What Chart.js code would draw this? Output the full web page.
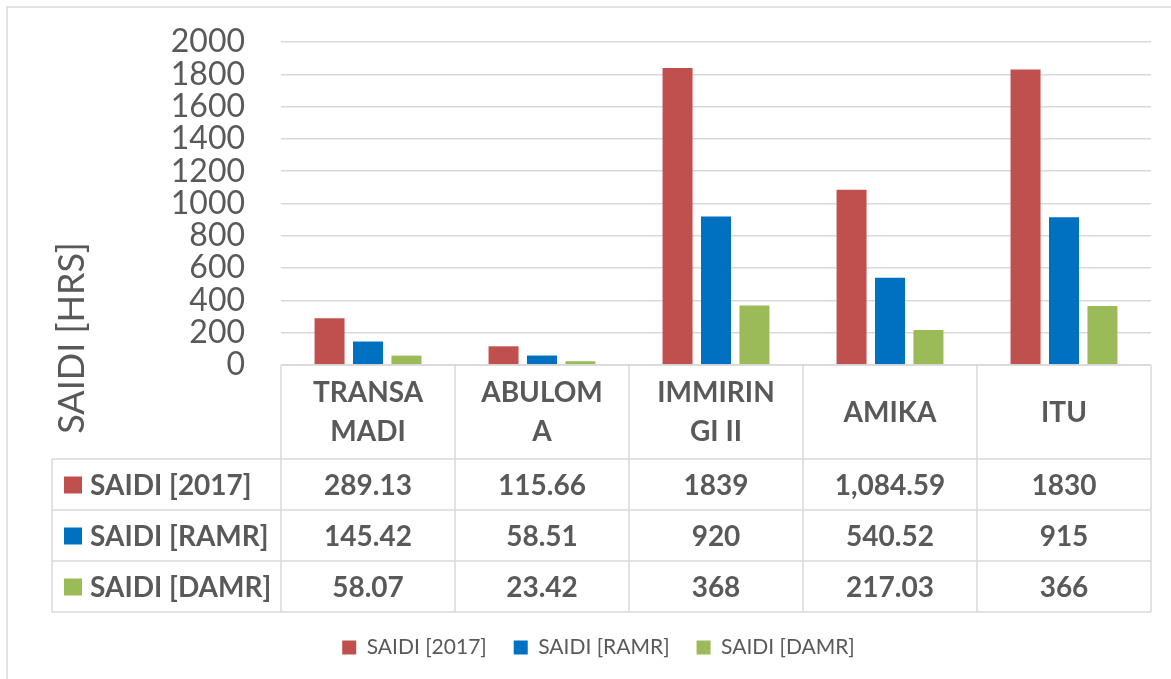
<!DOCTYPE html>
<html>
<head>
<meta charset="utf-8">
<script src="https://cdn.jsdelivr.net/npm/chart.js@4.4.1/dist/chart.umd.min.js"></script>
<style>
  html, body { margin: 0; padding: 0; background: #fff; }
  #wrap { width: 1171px; height: 679px; }
</style>
</head>
<body>
<div id="wrap"><canvas id="myChart" width="1171" height="679"></canvas></div>
<script>
// data
const categories = [['TRANSA', 'MADI'], ['ABULOM', 'A'], ['IMMIRIN', 'GI II'], 'AMIKA', 'ITU'];
const seriesNames = ['SAIDI [2017]', 'SAIDI [RAMR]', 'SAIDI [DAMR]'];
const saidi2017 = [289.13, 115.66, 1839, 1084.59, 1830];
const saidiRamr = [145.42, 58.51, 920, 540.52, 915];
const saidiDamr = [58.07, 23.42, 368, 217.03, 366];
const yTicks = [0, 200, 400, 600, 800, 1000, 1200, 1400, 1600, 1800, 2000];
const yTitle = 'SAIDI [HRS]';

const colors = ['#C0504D', '#0070C0', '#9BBB59'];
const gridColor = '#D9D9D9';
const textColor = '#595959';

Chart.defaults.font.family = 'Lato';
Chart.defaults.color = textColor;

function fmt(v) {
    if (Number.isInteger(v)) return String(v);
    return v.toLocaleString('en-US', { minimumFractionDigits: 2, maximumFractionDigits: 2 });
}

// data table under the plot + outer frame + y title
const tablePlugin = {
    id: 'dataTable',
    afterDraw(chart) {
        const ctx = chart.ctx;
        const x = chart.scales.x;
        const area = chart.chartArea;
        const top = area.bottom;
        const headH = 94, rowH = 51;
        const tableLeft = 52;
        const n = categories.length;
        const colW = (area.right - area.left) / n;
        const rows = [saidi2017, saidiRamr, saidiDamr];
        const bottom = top + headH + rowH * rows.length;

        ctx.save();
        // outer frame (top + left)
        ctx.strokeStyle = gridColor;
        ctx.lineWidth = 1.5;
        ctx.beginPath();
        ctx.moveTo(7, chart.height);
        ctx.lineTo(7, 7);
        ctx.lineTo(chart.width, 7);
        ctx.stroke();

        // table lines
        ctx.beginPath();
        ctx.moveTo(area.left, top);
        ctx.lineTo(area.right, top);
        for (let r = 0; r <= rows.length; r++) {
            const y = top + headH + r * rowH;
            ctx.moveTo(tableLeft, y);
            ctx.lineTo(area.right, y);
        }
        for (let i = 0; i <= n; i++) {
            const xx = area.left + i * colW;
            ctx.moveTo(xx, top);
            ctx.lineTo(xx, bottom);
        }
        ctx.moveTo(tableLeft, top + headH);
        ctx.lineTo(tableLeft, bottom);
        ctx.stroke();

        // row labels + values
        ctx.font = 'bold 28px Lato';
        ctx.textBaseline = 'middle';
        rows.forEach((vals, r) => {
            const cy = top + headH + r * rowH + rowH / 2;
            ctx.fillStyle = colors[r];
            ctx.fillRect(64, cy - 8, 18, 17);
            ctx.fillStyle = textColor;
            ctx.textAlign = 'left';
            ctx.fillText(seriesNames[r], 90, cy + 1);
            ctx.textAlign = 'center';
            vals.forEach((v, i) => {
                ctx.fillText(fmt(v), x.getPixelForValue(i), cy + 1);
            });
        });

        // y axis title
        ctx.translate(72, 338);
        ctx.rotate(-Math.PI / 2);
        ctx.font = '36px Lato';
        ctx.textAlign = 'center';
        ctx.fillStyle = textColor;
        ctx.fillText(yTitle, 0, 0);
        ctx.restore();
    }
};

const ctx = document.getElementById('myChart').getContext('2d');
const myChart = new Chart(ctx, {
    type: 'bar',
    data: {
        labels: categories,
        datasets: [
            { label: seriesNames[0], data: saidi2017, backgroundColor: colors[0] },
            { label: seriesNames[1], data: saidiRamr, backgroundColor: colors[1] },
            { label: seriesNames[2], data: saidiDamr, backgroundColor: colors[2] }
        ]
    },
    options: {
        responsive: false,
        animation: false,
        devicePixelRatio: 1,
        categoryPercentage: 0.663,
        barPercentage: 0.78,
        layout: { padding: { top: 42, left: 46, right: 20, bottom: 11 } },
        plugins: {
            tooltip: { enabled: false },
            legend: {
                position: 'bottom',
                labels: {
                    boxWidth: 14,
                    boxHeight: 14,
                    padding: 27,
                    font: { size: 21 },
                    color: textColor
                }
            }
        },
        scales: {
            x: {
                grid: { display: false },
                border: { display: false },
                ticks: {
                    font: { size: 28, weight: 'bold', lineHeight: 1.4 },
                    color: textColor,
                    padding: 20,
                    crossAlign: 'center',
                    maxRotation: 0,
                    autoSkip: false
                },
                afterFit: (scale) => { scale.height = 245; }
            },
            y: {
                min: 0,
                max: 2000,
                afterBuildTicks: (scale) => { scale.ticks = yTicks.map(v => ({ value: v })); },
                grid: { color: gridColor, lineWidth: 1.5, drawTicks: true, tickLength: 36, tickColor: 'rgba(0,0,0,0)' },
                border: { display: false },
                ticks: {
                    font: { size: 32 },
                    color: textColor,
                    padding: 0,
                    autoSkip: false,
                    callback: (v) => String(v)
                },
                afterFit: (scale) => { scale.width = 235; }
            }
        }
    },
    plugins: [tablePlugin]
});
</script>
</body>
</html>
